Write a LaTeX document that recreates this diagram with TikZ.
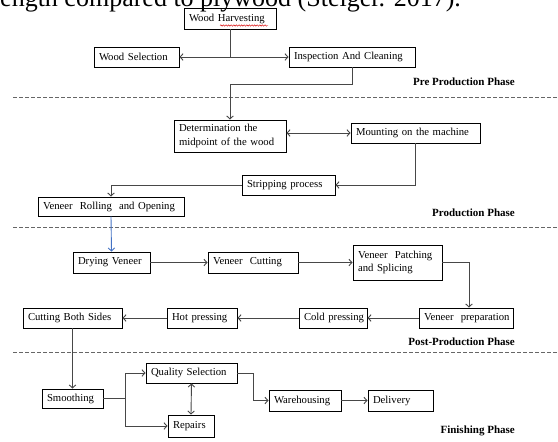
\documentclass[tikz,border=0pt]{standalone}
\usepackage{fontspec}
\setmainfont{Liberation Serif}
\usetikzlibrary{arrows.meta,calc,decorations.pathmorphing}
\definecolor{arrblue}{RGB}{68,114,196}
\begin{document}
\begin{tikzpicture}[x=1pt,y=-1pt,
  box/.style={draw=black,line width=0.9pt,inner xsep=5pt,inner ysep=1pt,align=left,
    font=\fontsize{10.7}{13.5}\selectfont},
  conn/.style={draw=black!72,line width=0.9pt},
  tip/.tip={Straight Barb[length=3pt,width=6.5pt]},
  arr/.style={conn,-tip},
  darr/.style={conn,tip-tip},
  sep/.style={draw=black!60,line width=0.9pt,dash pattern=on 3.5pt off 2.5pt},
  phase/.style={anchor=east,inner sep=0pt,font=\bfseries\fontsize{11}{13}\selectfont}]
\useasboundingbox (0,0) rectangle (558,442);
\fill[white] (0,0) rectangle (558,442);
% cut-off line of running text at the top
\begin{scope}
\clip (0,0) rectangle (558,442);
\node[anchor=base west,inner sep=0pt,font=\fontsize{26}{30}\selectfont] (toptext) at (-7.2,6) {length compared to plywood (Steiger. 2017).};
\end{scope}

% separators
\draw[sep] (13,97) -- (558,97);
\draw[sep] (13,227) -- (558,227);
\draw[sep] (13,352) -- (558,352);

% phase labels
\node[phase] (lpre) at (515,82) {Pre Production Phase};
\node[phase] (lprod) at (515,213) {Production Phase};
\node[phase] (lpost) at (515,342) {Post-Production Phase};
\node[phase] (lfin) at (515,431) {Finishing Phase};

% boxes
\node[box,text width=82pt,minimum height=21pt] (harv) at (230,18.5) {\mbox{Wood Harvesting}};
\node[box,text width=75pt,minimum height=20pt] (sel) at (136.5,57) {\mbox{Wood Selection}};
\node[box,text width=116pt,minimum height=20pt] (insp) at (352,57) {\mbox{Inspection And Cleaning}};
\node[box,text width=102pt,minimum height=32pt] (det) at (230,136) {Determination the\\ midpoint of the wood};
\node[box,text width=119pt,minimum height=20pt] (mount) at (415.5,133) {\mbox{Mounting on the machine}};
\node[box,text width=83pt,minimum height=20pt] (strip) at (288.5,185) {\mbox{Stripping process}};
\node[box,text width=136pt,minimum height=19pt] (roll) at (111,206.5) {\mbox{Veneer\ \ Rolling\ \ and Opening}};
\node[box,text width=67pt,minimum height=21pt] (dry) at (111.5,262.5) {\mbox{Drying Veneer}};
\node[box,text width=80pt,minimum height=21pt] (cut) at (253,262.5) {\mbox{Veneer\ \ Cutting}};
\node[box,text width=79pt,minimum height=35pt] (patch) at (397.5,262.5) {Veneer\ \ Patching\\and Splicing};
\node[box,text width=84pt,minimum height=20pt] (prep) at (466,318) {\mbox{Veneer\ \ preparation}};
\node[box,text width=58pt,minimum height=20pt] (cold) at (333,318) {\mbox{Cold pressing}};
\node[box,text width=60pt,minimum height=20pt] (hot) at (202,318) {\mbox{Hot pressing}};
\node[box,text width=89pt,minimum height=20pt] (cbs) at (72.5,318) {\mbox{Cutting Both Sides}};
\node[box,text width=51pt,minimum height=19pt] (smooth) at (72.5,398.5) {\mbox{Smoothing}};
\node[box,text width=81pt,minimum height=20pt] (qual) at (191.5,373) {\mbox{Quality Selection}};
\node[box,text width=36pt,minimum height=22pt] (rep) at (191,426) {\mbox{Repairs}};
\node[box,text width=62pt,minimum height=21pt] (ware) at (305,400.5) {\mbox{Warehousing}};
\node[box,text width=55pt,minimum height=21pt] (deliv) at (400.5,400.5) {\mbox{Delivery}};

% spell-check underline
\draw[red!85!black,line width=0.45pt,decorate,decoration={snake,amplitude=0.7pt,segment length=2.6pt}] (220,25.5) -- (268,25.5);

% connectors
\coordinate (j1) at (harv.south |- sel.east);
\draw[conn] (harv.south) -- (j1);
\draw[arr] (j1) -- (sel.east);
\draw[arr] (j1) -- (insp.west);
\draw[arr] (insp.south) -- ++(0,17) -| (det.north);
\draw[darr] (det.east |- mount.west) -- (mount.west);
\draw[arr] (mount.south) |- (strip.east);
\draw[arr] (strip.west) -| (roll.north);
\draw[draw=arrblue,line width=0.9pt,-tip] (roll.south) -- (dry.north);
\draw[arr] (dry.east) -- (cut.west);
\draw[arr] (cut.east) -- (cut.east -| patch.west);
\draw[arr] (patch.east) -| ([xshift=3pt]prep.north);
\draw[arr] (prep.west) -- (cold.east);
\draw[arr] (cold.west) -- (hot.east);
\draw[arr] (hot.west) -- (cbs.east);
\draw[arr] (cbs.south) -- (smooth.north);
\coordinate (j2) at ($(smooth.east)+(22,0)$);
\draw[arr] (smooth.east) -- (j2) |- (qual.west);
\draw[arr] (j2) |- (rep.west);
\draw[darr] (qual.south) -- (rep.north);
\draw[arr] (qual.east) -- ++(16,0) |- (ware.west);
\draw[arr] (ware.east) -- (deliv.west);
\end{tikzpicture}
\end{document}
